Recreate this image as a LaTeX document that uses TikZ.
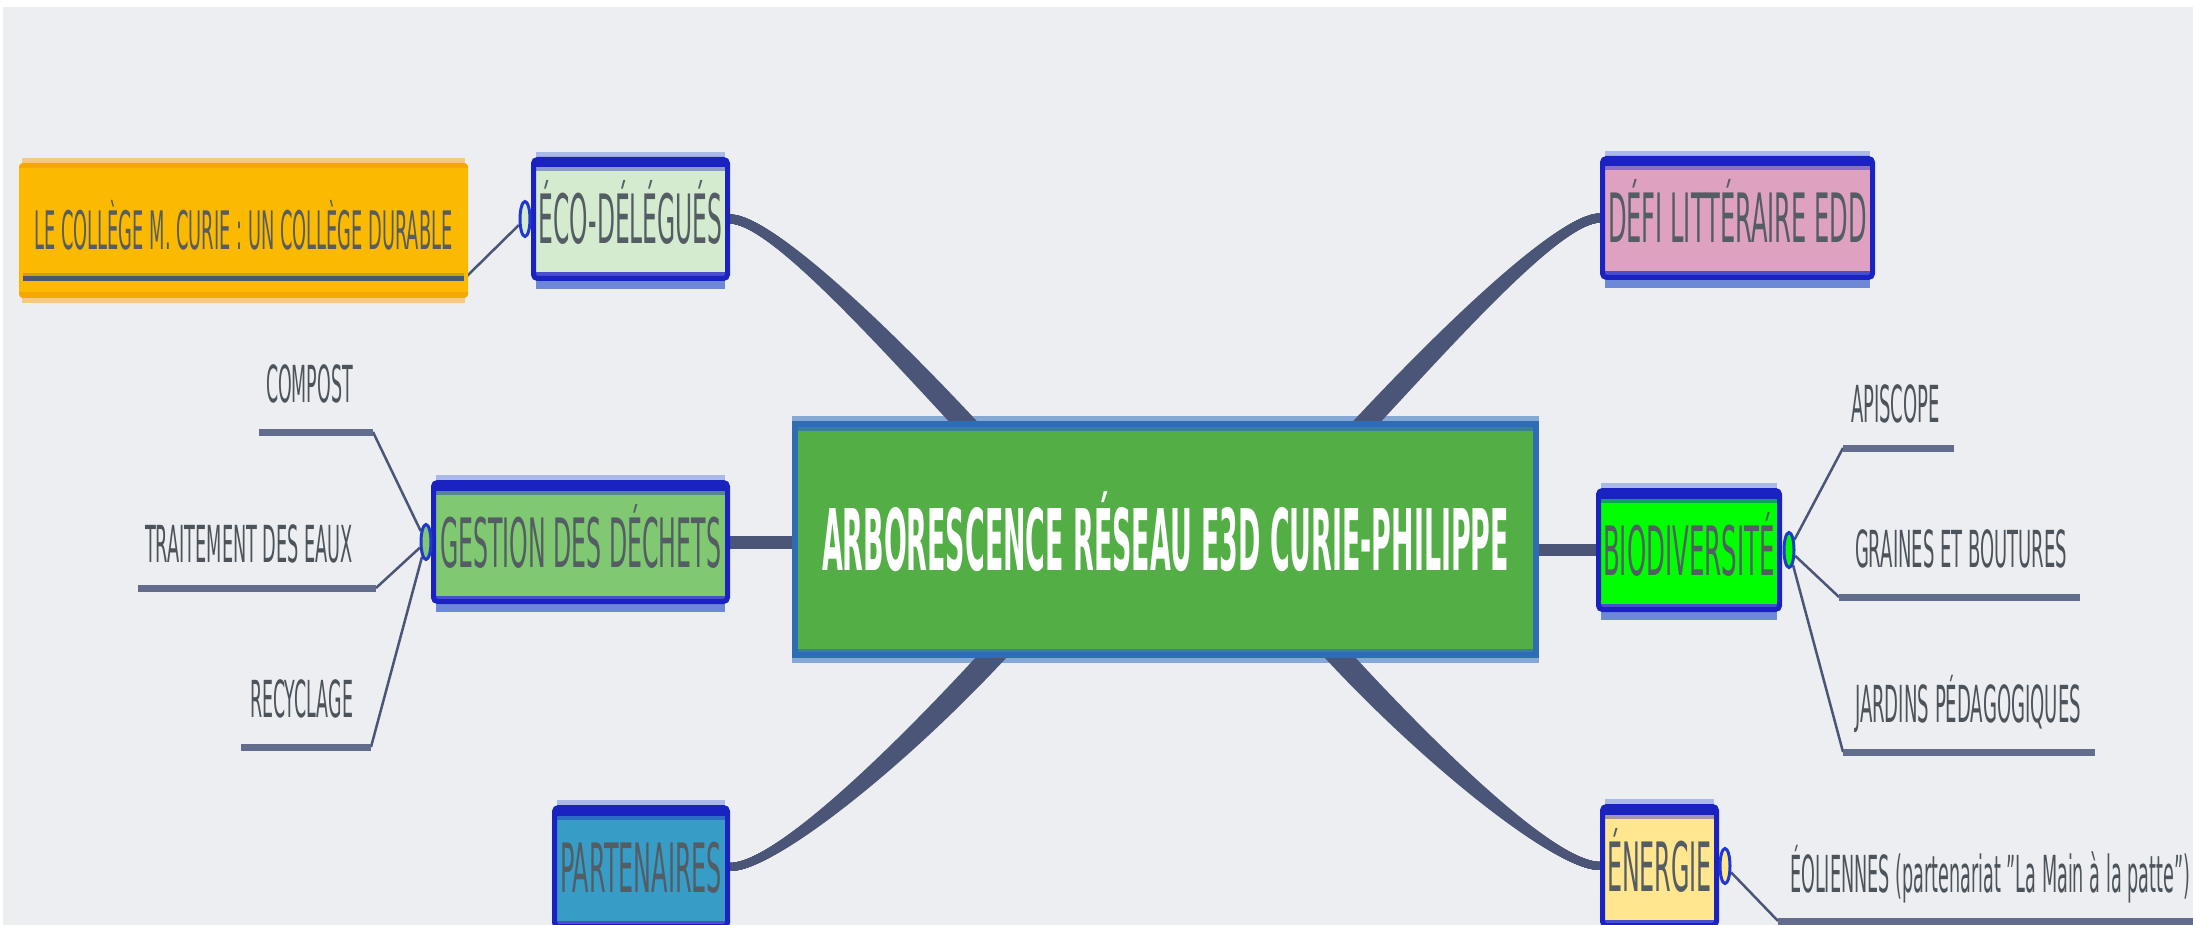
\documentclass[tikz,border=0pt]{standalone}
\usepackage{fontspec}
\setmainfont{DejaVu Sans}
\usepackage{graphicx}
\usetikzlibrary{shapes.geometric}
\definecolor{pagebg}{HTML}{ECEEF2}
\definecolor{bdark}{HTML}{1A22C2}
\definecolor{halotop}{HTML}{A9B9E8}
\definecolor{halobot}{HTML}{6E88D8}
\definecolor{conncol}{HTML}{4A5578}
\definecolor{tgray}{HTML}{545C64}
\definecolor{ctext}{HTML}{4C535B}
\definecolor{ecofill}{HTML}{D4EBD0}
\definecolor{gestfill}{HTML}{80C871}
\definecolor{partfill}{HTML}{379DC6}
\definecolor{defifill}{HTML}{DEA1BF}
\definecolor{biodfill}{HTML}{00FF00}
\definecolor{enerfill}{HTML}{FFE68F}
\definecolor{colfill}{HTML}{FBB900}
\definecolor{colstrip}{HTML}{F6A700}
\definecolor{colhalo}{HTML}{F5C985}
\definecolor{cfill}{HTML}{52AE45}
\definecolor{cborder}{HTML}{2E6DB4}
\definecolor{cteal}{HTML}{3A7F9A}
\definecolor{chalo}{HTML}{85A8D5}
\definecolor{ulcol}{HTML}{626C8C}
\definecolor{dotcol}{HTML}{1E38D0}
\definecolor{colbar}{HTML}{4A5570}
\definecolor{colbartop}{HTML}{D0A000}
\newcommand{\sq}[2]{\resizebox{#1pt}{\height}{#2}}
\pgfdeclarelayer{bgl}\pgfdeclarelayer{halo}\pgfdeclarelayer{conn}
\pgfsetlayers{bgl,halo,conn,main}
\tikzset{
  topic/.style={draw=bdark, line width=5pt, rounded corners=4pt, fill=#1, inner sep=0pt,
    minimum height=119pt, text=tgray, font=\fontsize{68}{70}\selectfont,
    text height=50pt, text depth=0pt,
    path picture={
      \fill[bdark, sharp corners] (path picture bounding box.north west) rectangle ([yshift=-8pt]path picture bounding box.north east);
      \fill[#1!60!bdark, sharp corners] ([yshift=-8pt]path picture bounding box.north west) rectangle ([yshift=-12pt]path picture bounding box.north east);
      \fill[bdark!80!white, sharp corners] (path picture bounding box.south west) rectangle ([yshift=6pt]path picture bounding box.south east);}},
  cbox/.style={draw=cborder, line width=6pt, fill=cfill, inner sep=0pt,
    minimum width=741pt, minimum height=231pt, text=white, font=\fontsize{85}{90}\selectfont\bfseries,
    text height=62pt, text depth=0pt,
    path picture={
      \fill[cteal] ([yshift=-3pt]path picture bounding box.north west) rectangle ([yshift=-7pt]path picture bounding box.north east);
      \fill[cteal] ([yshift=3pt]path picture bounding box.south west) rectangle ([yshift=6pt]path picture bounding box.south east);}},
  colbox/.style={fill=colfill, rounded corners=4pt, inner sep=0pt, minimum width=449pt,
    minimum height=135pt, text=tgray, font=\fontsize{53}{55}\selectfont,
    text height=39pt, text depth=0pt,
    path picture={
      \fill[colstrip, sharp corners] (path picture bounding box.north west) rectangle ([yshift=-5pt]path picture bounding box.north east);
      \fill[colstrip, sharp corners] (path picture bounding box.south west) rectangle ([yshift=6pt]path picture bounding box.south east);}},
  kid/.style={text=ctext, font=\fontsize{51}{53}\selectfont, inner sep=0pt, anchor=base},
  dot/.style={ellipse, draw=dotcol, line width=3pt, fill=#1, minimum width=10pt,
    minimum height=35pt, inner sep=0pt},
  branch/.style={draw=conncol, line width=#1},
  twig/.style={draw=conncol, line width=2.5pt},
  uline/.style={draw=ulcol, line width=7pt},
}
\begin{document}
\begin{tikzpicture}[x=1pt, y=-1pt]
\useasboundingbox (0,0) rectangle (2193,925);
\begin{pgfonlayer}{bgl}
  \fill[white] (0,0) rectangle (2193,925);
  \fill[pagebg] (3,7) rectangle (2193,925);
\end{pgfonlayer}

% central and topic nodes
\node[cbox] (c) at (1165.5,539.5) {\sq{687}{ARBORESCENCE RÉSEAU E3D CURIE-PHILIPPE}};
\node[topic=ecofill, minimum width=194pt] (eco) at (630.5,219) {\sq{184}{ÉCO-DÉLÉGUÉS}};
\node[topic=defifill, minimum width=270pt] (defi) at (1737.5,218) {\sq{259}{DÉFI LITTÉRAIRE EDD}};
\node[topic=gestfill, minimum width=294pt] (gest) at (580.5,542) {\sq{281}{GESTION DES DÉCHETS}};
\node[topic=biodfill, minimum width=181pt] (biod) at (1689,550) {\sq{172}{BIODIVERSITÉ}};
\node[topic=partfill, minimum width=173pt] (part) at (641,867) {\sq{162}{PARTENAIRES}};
\node[topic=enerfill, minimum width=114pt] (ener) at (1659.5,866) {\sq{105}{ÉNERGIE}};
\node[colbox] (col) at (243.5,230.5) {\sq{418}{LE COLLÈGE M. CURIE : UN COLLÈGE DURABLE}};
\coordinate (colL) at (23,279);
\coordinate (colR) at (464,279);
\draw[line width=3pt, colbartop] ([yshift=4pt]colL) -- ([yshift=4pt]colR);
\draw[line width=5pt, colbar] (colL) -- (colR);

% attachment dots
\node[dot=ecofill] (ecoc) at ([xshift=-6pt]eco.west) {};
\node[dot=gestfill] (gcirc) at ([xshift=-5pt]gest.west) {};
\node[dot=biodfill] (bcirc) at ([xshift=7pt]biod.east) {};
\node[dot=enerfill] (ecirc) at ([xshift=6pt]ener.east) {};

% children
\node[kid] (comp) at (309.5,402) {\sq{87}{COMPOST}};
\node[kid] (trai) at (249,562) {\sq{208}{TRAITEMENT DES EAUX}};
\node[kid] (recy) at (301.5,717) {\sq{103}{RECYCLAGE}};
\node[kid] (apis) at (1895.5,422) {\sq{89}{APISCOPE}};
\node[kid] (grai) at (1961,567) {\sq{212}{GRAINES ET BOUTURES}};
\node[kid] (jard) at (1968,722) {\sq{226}{JARDINS PÉDAGOGIQUES}};
\node[kid] (eoli) at (1990,892) {\sq{400}{ÉOLIENNES (partenariat "La Main à la patte")}};
\coordinate (compL) at (259,432); \coordinate (compR) at (373,432);
\coordinate (traiL) at (138,588); \coordinate (traiR) at (376,588);
\coordinate (recyL) at (241,747); \coordinate (recyR) at (371,747);
\coordinate (apisL) at (1843,448); \coordinate (apisR) at (1954,448);
\coordinate (graiL) at (1839,597); \coordinate (graiR) at (2080,597);
\coordinate (jardL) at (1843,752); \coordinate (jardR) at (2095,752);
\coordinate (eoliL) at (1778,921); \coordinate (eoliR) at (2200,921);

\begin{pgfonlayer}{halo}
  \foreach \n in {eco,defi,gest,biod,part,ener}{
    \fill[halotop] ([xshift=5pt]\n.north west) rectangle ([xshift=-5pt,yshift=5pt]\n.north east);
    \fill[halobot] ([xshift=5pt,yshift=-8pt]\n.south west) rectangle ([xshift=-5pt]\n.south east);
  }
  \fill[chalo] (c.north west) rectangle ([yshift=5pt]c.north east);
  \fill[chalo] ([yshift=-5pt]c.south west) rectangle (c.south east);
  \fill[colhalo] ([xshift=3pt]col.north west) rectangle ([xshift=-3pt,yshift=5pt]col.north east);
  \fill[colhalo] ([xshift=3pt,yshift=-5pt]col.south west) rectangle ([xshift=-3pt]col.south east);
\end{pgfonlayer}

\begin{pgfonlayer}{conn}
  \foreach \k in {-8,-6,...,8}{
    \pgfmathsetmacro{\dl}{-195.5+\k}
    \pgfmathsetmacro{\dr}{194.5+\k}
    \draw[branch=9pt] (eco.east) .. controls +(40,0) and +(-90,-97) .. ([xshift=\dl pt, yshift=-8pt]c.north);
    \draw[branch=9pt] (defi.west) .. controls +(-40,0) and +(90,-97) .. ([xshift=\dr pt, yshift=-8pt]c.north);
  }
  \foreach \k in {-10,-8,...,10}{
    \pgfmathsetmacro{\dl}{-167.5+\k}
    \pgfmathsetmacro{\dr}{167.5+\k}
    \draw[branch=8pt] (part.east) .. controls +(45,0) and +(-98,107) .. ([xshift=\dl pt, yshift=8pt]c.south);
    \draw[branch=8pt] (ener.west) .. controls +(-45,0) and +(98,107) .. ([xshift=\dr pt, yshift=8pt]c.south);
  }
  \draw[branch=13pt] (gest.east) -- (c.west |- gest.east);
  \draw[branch=12pt] (c.east |- biod.west) -- (biod.west);
  \draw[twig] (colR) -- (ecoc);
  \draw[twig] (gcirc) -- (compR);
  \draw[twig] (gcirc) -- (traiR);
  \draw[twig] (gcirc) -- (recyR);
  \draw[twig] (bcirc) -- (apisL);
  \draw[twig] (bcirc) -- (graiL);
  \draw[twig] (bcirc) -- (jardL);
  \draw[twig] (ecirc) -- (eoliL);
  \draw[uline] (compL) -- (compR);
  \draw[uline] (traiL) -- (traiR);
  \draw[uline] (recyL) -- (recyR);
  \draw[uline] (apisL) -- (apisR);
  \draw[uline] (graiL) -- (graiR);
  \draw[uline] (jardL) -- (jardR);
  \draw[uline] (eoliL) -- (eoliR);
\end{pgfonlayer}
\end{tikzpicture}
\end{document}
